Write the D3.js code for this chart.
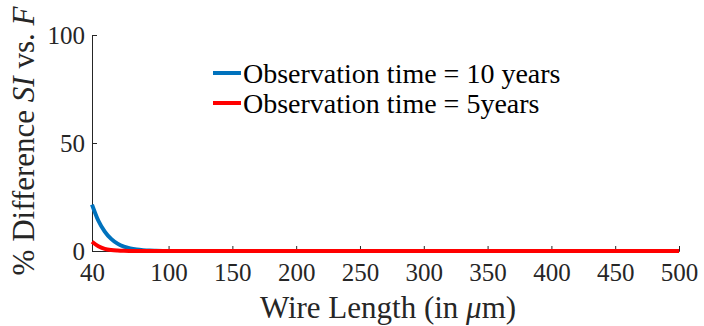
<!DOCTYPE html>
<html>
<head>
<meta charset="utf-8">
<script src="https://cdn.jsdelivr.net/npm/d3@7"></script>
<style>
  body { margin: 0; background: #fff; }
</style>
</head>
<body>
<svg id="chart" width="704" height="326"></svg>
<script>
// wire length samples (um)
const wireLength = [40, 45, 50, 55, 60, 65, 70, 75, 80, 85, 90, 100, 150, 200, 250, 300, 350, 400, 450, 500];
// % difference, observation time = 10 years
const diff10 = [21.5, 14, 9, 5.6, 3.4, 2.0, 1.2, 0.7, 0.4, 0.2, 0.1, 0, 0, 0, 0, 0, 0, 0, 0, 0];
// % difference, observation time = 5 years
const diff5 = [4.3, 2.2, 1.0, 0.45, 0.2, 0.08, 0.03, 0, 0, 0, 0, 0, 0, 0, 0, 0, 0, 0, 0, 0];

const xTicks = [40, 100, 150, 200, 250, 300, 350, 400, 450, 500];
const yTicks = [0, 50, 100];

const series = [
  { name: "Observation time = 10 years", values: diff10, color: "#0072BD" },
  { name: "Observation time = 5years", values: diff5, color: "#FF0000" }
];

const FONT = "'Liberation Serif', 'Times New Roman', serif";
const INK = "#262626";

const svg = d3.select("#chart");
const x = d3.scaleLinear().domain([40, 500]).range([92, 679]);
const y = d3.scaleLinear().domain([0, 100]).range([251, 35]);

// axes (ticks point inward, matlab style)
const xAxis = svg.append("g").attr("transform", "translate(0,251)")
  .call(d3.axisBottom(x).tickValues(xTicks).tickSize(-5).tickPadding(12));
const yAxis = svg.append("g").attr("transform", "translate(92,0)")
  .call(d3.axisLeft(y).tickValues(yTicks).tickSize(-5).tickPadding(7));

[xAxis, yAxis].forEach(g => {
  g.attr("font-family", FONT).attr("font-size", 25);
  g.selectAll("path").attr("stroke", INK).attr("stroke-width", 1);
  g.selectAll("line").attr("stroke", INK);
  g.selectAll("text")
    .style("font-family", FONT)
    .style("font-size", "25px")
    .attr("fill", INK);
});
xAxis.selectAll("text").attr("dy", "0.71em");
yAxis.selectAll("text").attr("dy", "0.35em");

// lines
const line = d3.line()
  .x((d, i) => x(wireLength[i]))
  .y(d => y(d))
  .curve(d3.curveMonotoneX);

svg.selectAll(".series")
  .data(series)
  .enter()
  .append("path")
  .attr("class", "series")
  .attr("fill", "none")
  .attr("stroke", d => d.color)
  .attr("stroke-width", 4)
  .attr("d", d => line(d.values));

// legend
const legend = svg.append("g").attr("transform", "translate(213,73)");
series.forEach((s, i) => {
  const row = legend.append("g").attr("transform", "translate(0," + (i * 30) + ")");
  row.append("line").attr("x1", 0).attr("x2", 28).attr("y1", 0).attr("y2", 0)
    .attr("stroke", s.color).attr("stroke-width", 4);
  row.append("text").attr("x", 30).attr("dy", "0.35em")
    .style("font-family", FONT).attr("fill", "#000")
    .style("font-size", "28px").text(s.name);
});

// axis labels
svg.append("text")
  .attr("x", 388).attr("y", 318)
  .attr("text-anchor", "middle")
  .style("font-family", FONT).attr("fill", INK)
  .style("font-size", "31px")
  .call(t => {
    t.append("tspan").text("Wire Length (in ");
    t.append("tspan").style("font-style", "italic").text("μ");
    t.append("tspan").text("m)");
  });

svg.append("text")
  .attr("transform", "translate(34,141) rotate(-90)")
  .attr("text-anchor", "middle")
  .style("font-family", FONT).attr("fill", INK)
  .style("font-size", "31px")
  .call(t => {
    t.append("tspan").text("% Difference ");
    t.append("tspan").style("font-style", "italic").text("SI");
    t.append("tspan").text(" vs. ");
    t.append("tspan").style("font-style", "italic").text("F");
  });
</script>
</body>
</html>
